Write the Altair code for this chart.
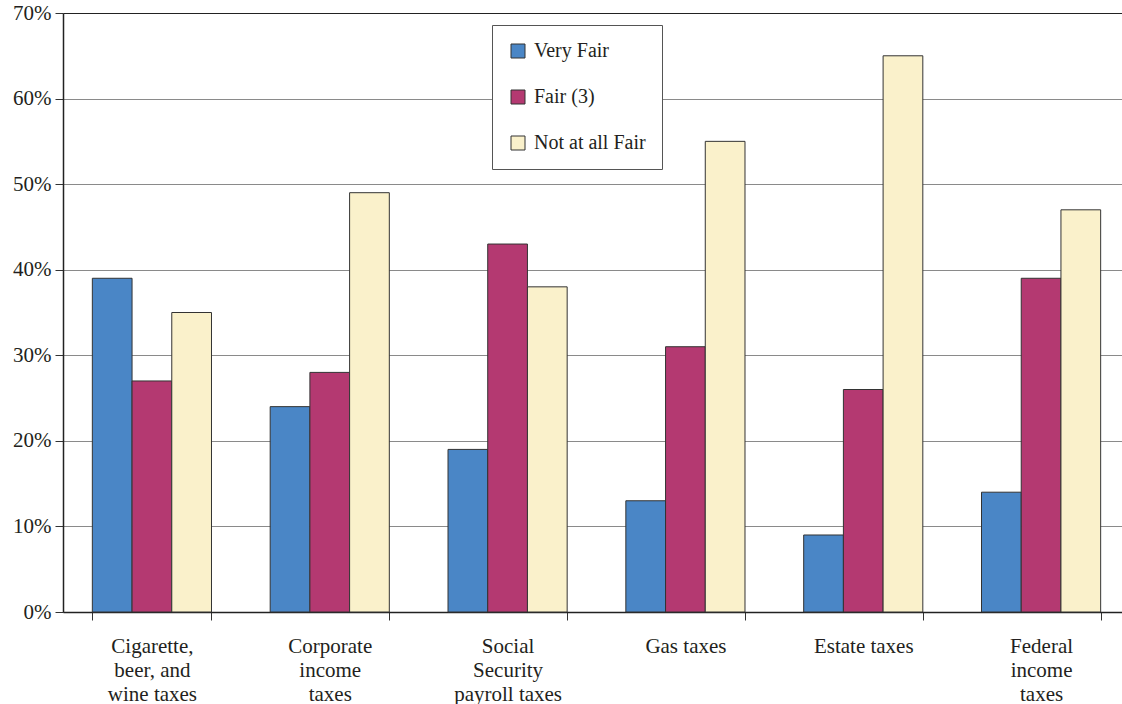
import altair as alt
import pandas as pd

categories = [
    "Cigarette,|beer, and|wine taxes",
    "Corporate|income|taxes",
    "Social|Security|payroll taxes",
    "Gas taxes",
    "Estate taxes",
    "Federal|income|taxes",
]
series = ["Very Fair", "Fair (3)", "Not at all Fair"]
very_fair = [39, 24, 19, 13, 9, 14]
fair = [27, 28, 43, 31, 26, 39]
not_fair = [35, 49, 38, 55, 65, 47]
colors = ["#4A86C6", "#B43971", "#FAF1CB"]

rows = []
for i, c in enumerate(categories):
    for s, vals in zip(series, [very_fair, fair, not_fair]):
        rows.append({"category": c, "series": s, "value": vals[i]})
df = pd.DataFrame(rows)

FONT = "Liberation Serif"

chart = alt.Chart(df).mark_bar(stroke="#333333", strokeWidth=1).encode(
    x=alt.X(
        "category:N",
        sort=categories,
        title=None,
        scale=alt.Scale(paddingInner=0.33, paddingOuter=0.165, range=[0, 1067]),
        axis=alt.Axis(
            labelExpr="split(datum.label, '|')",
            labelAngle=0,
            labelFont=FONT,
            labelFontSize=21,
            labelColor="#231F20",
            labelLineHeight=24,
            labelPadding=15,
            labelBaseline="top",
            tickBand="extent",
            tickSize=8,
            tickColor="#333333",
            domainColor="#222222",
            domainWidth=1.5,
            grid=False,
        ),
    ),
    xOffset=alt.XOffset("series:N", sort=series, scale=alt.Scale(paddingInner=0, paddingOuter=0)),
    y=alt.Y(
        "value:Q",
        title=None,
        scale=alt.Scale(domain=[0, 70], nice=False),
        axis=alt.Axis(
            values=[0, 10, 20, 30, 40, 50, 60, 70],
            labelExpr="datum.value + '%'",
            labelFont=FONT,
            labelFontSize=21,
            labelColor="#231F20",
            labelPadding=4,
            tickSize=8,
            tickColor="#333333",
            domainColor="#222222",
            domainWidth=1.5,
            grid=True,
            gridColor={"condition": {"test": "datum.value == 70", "value": "#222222"}, "value": "#8A8A8A"},
            gridWidth=1,
        ),
    ),
    color=alt.Color(
        "series:N",
        sort=series,
        scale=alt.Scale(domain=series, range=colors),
        legend=alt.Legend(
            title=None,
            orient="none",
            legendX=429,
            legendY=12,
            direction="vertical",
            fillColor="white",
            strokeColor="#555555",
            padding=16,
            symbolType="square",
            symbolSize=196,
            symbolStrokeColor="#333333",
            symbolStrokeWidth=1,
            symbolOpacity=1,
            labelFont=FONT,
            labelFontSize=20,
            labelColor="#231F20",
            labelOffset=6,
            rowPadding=26,
        ),
    ),
).properties(
    width=1059,
    height=599,
    autosize=alt.AutoSizeParams(type="none"),
    padding={"left": 63, "top": 13, "right": 0, "bottom": 92},
).configure_view(stroke=None).configure(background="white")

chart.save("out.html", embed_options={"renderer": "svg", "actions": False})
